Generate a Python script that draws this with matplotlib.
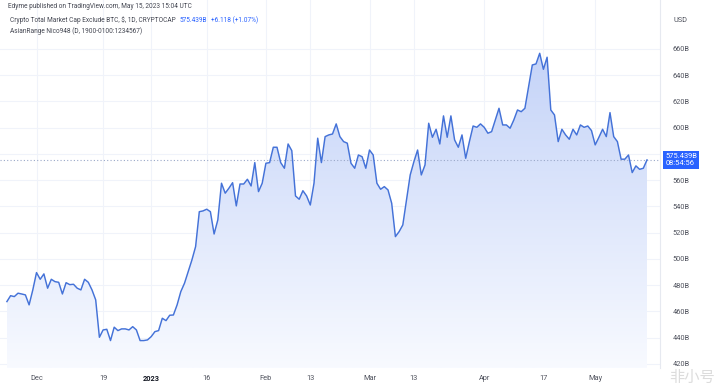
import numpy as np
import pandas as pd
import matplotlib
matplotlib.use("Agg")
import matplotlib.pyplot as plt
import matplotlib.dates as mdates
from matplotlib.transforms import blended_transform_factory

plt.rcParams['font.family'] = ['Roboto', 'Noto Sans CJK SC', 'DejaVu Sans']

# ---------------- data ----------------
start_date = "2022-11-23"
values = [
    467.5, 472.0, 471.3, 473.9, 473.3, 472.6, 465.0, 476.4, 489.6, 484.5,
    488.6, 477.7, 484.5, 482.7, 482.2, 473.3, 481.9, 480.4, 480.7, 477.7,
    476.4, 484.5, 482.2, 476.4, 468.8, 440.3, 445.9, 446.4, 437.8, 448.0,
    445.4, 446.7, 446.7, 445.9, 448.4, 445.9, 437.8, 437.8, 438.3, 440.8,
    444.6, 445.4, 454.8, 453.0, 457.1, 457.3, 465.0, 475.1, 481.5, 490.3,
    499.2, 509.4, 536.0, 536.6, 537.9, 536.0, 519.0, 529.7, 557.7, 550.1,
    553.9, 558.1, 540.4, 557.1, 557.1, 560.7, 555.6, 573.4, 551.3, 557.7,
    572.9, 573.4, 585.1, 585.1, 573.4, 569.1, 587.6, 582.5, 548.0, 545.5,
    552.0, 548.0, 541.1, 557.7, 592.0, 573.4, 593.2, 594.5, 595.2, 602.9,
    593.2, 589.4, 588.2, 572.9, 569.1, 579.2, 577.9, 569.1, 583.0, 579.2,
    557.7, 553.1, 555.1, 552.6, 542.4, 517.0, 520.8, 525.9, 545.0, 564.0,
    574.1, 583.0, 564.0, 571.6, 603.4, 592.7, 598.8, 587.6, 609.0, 592.7,
    609.0, 590.7, 585.1, 594.5, 576.7, 589.4, 601.3, 600.3, 602.9, 600.3,
    595.8, 597.0, 605.9, 614.8, 602.1, 602.1, 599.6, 605.9, 613.5, 612.2,
    614.8, 631.3, 647.8, 648.6, 656.7, 644.5, 653.7, 613.5, 609.7, 589.4,
    598.8, 594.5, 591.2, 598.8, 594.5, 602.1, 600.3, 601.3, 597.8, 586.9,
    592.7, 598.8, 593.2, 611.5, 593.2, 589.4, 576.0, 576.0, 579.2, 565.8,
    570.9, 568.3, 569.1, 575.439,
]
tick_dates = ["2022-12-01", "2022-12-19", "2023-01-01", "2023-01-16", "2023-02-01",
              "2023-02-13", "2023-03-01", "2023-03-13", "2023-04-01", "2023-04-17",
              "2023-05-01"]
tick_labels = ["Dec", "19", "2023", "16", "Feb", "13", "Mar", "13", "Apr", "17", "May"]
price_ticks = [420, 440, 460, 480, 500, 520, 540, 560, 580, 600, 620, 640, 660]
price_labels = [f"{p}B" for p in price_ticks]
last_price = 575.439
last_time = "08:54:56"
change_text = "+6.118 (+1.07%)"

header1 = "Edyme published on TradingView.com, May 15, 2023 15:04 UTC"
header2 = "Crypto Total Market Cap Exclude BTC, $, 1D, CRYPTOCAP"
header3 = "AsianRange Nico948 (D, 1900-0100:1234567)"

# ---------------- figure ----------------
W, H = 718, 388
fig = plt.figure(figsize=(W / 100, H / 100), dpi=100)
fig.patch.set_facecolor("white")
ax = fig.add_axes([0, 20 / H, 660 / W, 368 / H])
ax.set_facecolor("white")

dates = pd.date_range(start_date, periods=len(values), freq="D")
xd = mdates.date2num(dates)
vals = np.array(values)

x0 = xd[0] - 6.9 / 3.7
x1 = xd[0] + (660 - 6.9) / 3.7
ymin, ymax = 416.9, 697.3
ax.set_xlim(x0, x1)
ax.set_ylim(ymin, ymax)

# grid
for t in tick_dates:
    ax.axvline(mdates.date2num(pd.Timestamp(t)), color="#f0f3fa", lw=0.8, zorder=0)
for p in price_ticks:
    ax.axhline(p, color="#f0f3fa", lw=0.8, zorder=0)

# gradient fill under line
poly = ax.fill_between(xd, vals, ymin, color="none", lw=0)
grad = np.linspace(0, 1, 256).reshape(-1, 1)
top = np.array([196, 211, 248]) / 255.0
bot = np.array([248, 250, 255]) / 255.0
img = top[None, None, :] * (1 - grad[:, :, None]) + bot[None, None, :] * grad[:, :, None]
im = ax.imshow(img, extent=[xd[0], xd[-1], ymin, 660], aspect="auto",
               origin="upper", zorder=1, interpolation="bilinear")
path = poly.get_paths()[0]
im.set_clip_path(path, transform=ax.transData)

ax.plot(xd, vals, color="#4472d8", lw=1.05, zorder=3, solid_joinstyle="round")

# last price dotted line
ax.axhline(last_price, color="#9aa8c8", lw=0.8, ls=(0, (1, 2)), zorder=2)

# axes styling
for s in ["top", "left", "bottom"]:
    ax.spines[s].set_visible(False)
ax.spines["right"].set_color("#e6e9f0")
ax.spines["right"].set_linewidth(0.8)

ax.set_xticks([mdates.date2num(pd.Timestamp(t)) for t in tick_dates])
ax.set_xticklabels(tick_labels)
ax.tick_params(axis="x", length=0, pad=5, labelsize=5.3, labelcolor="#50535e")
for lbl in ax.get_xticklabels():
    if lbl.get_text() == "2023":
        lbl.set_fontweight("bold")
        lbl.set_color("#131722")

ax.yaxis.tick_right()
ax.set_yticks(price_ticks)
ax.set_yticklabels(price_labels)
ax.tick_params(axis="y", length=0, pad=9, labelsize=5.3, labelcolor="#50535e")
for lbl in ax.get_yticklabels():
    lbl.set_horizontalalignment("left")

fig.text(673 / W, 1 - 20 / H, "USD", fontsize=5.3, color="#50535e", va="center", ha="left")

# last price label box
tr = blended_transform_factory(ax.transAxes, ax.transData)
ax.text(1.008, last_price, f"{last_price:.3f}B\n{last_time}", transform=tr,
        fontsize=5.4, color="white", va="center", ha="left", linespacing=1.05,
        bbox=dict(boxstyle="square,pad=0.3", fc="#2962ff", ec="none"),
        zorder=10, clip_on=False)

# header texts
hs = 4.7
fig.text(8 / W, 1 - 7 / H, header1, fontsize=hs, color="#434651", va="center", ha="left")
t2 = fig.text(10 / W, 1 - 20 / H, header2, fontsize=hs, color="#434651", va="center", ha="left")
fig.text(10 / W, 1 - 31 / H, header3, fontsize=hs, color="#434651", va="center", ha="left")
fig.canvas.draw()
bb = t2.get_window_extent()
t3 = fig.text((bb.x1 + 4) / W, 1 - 20 / H, f"{last_price:.3f}B", fontsize=hs,
              color="#2962ff", va="center", ha="left")
fig.canvas.draw()
bb3 = t3.get_window_extent()
fig.text((bb3.x1 + 4) / W, 1 - 20 / H, change_text, fontsize=hs,
         color="#2962ff", va="center", ha="left")

# watermark
fig.text(692 / W, 1 - 377 / H, "非小号", fontsize=11, color="#dcdcdc",
         va="center", ha="center", family=["Noto Sans CJK SC", "DejaVu Sans"])

fig.savefig("out.png", dpi=100, facecolor="white")
